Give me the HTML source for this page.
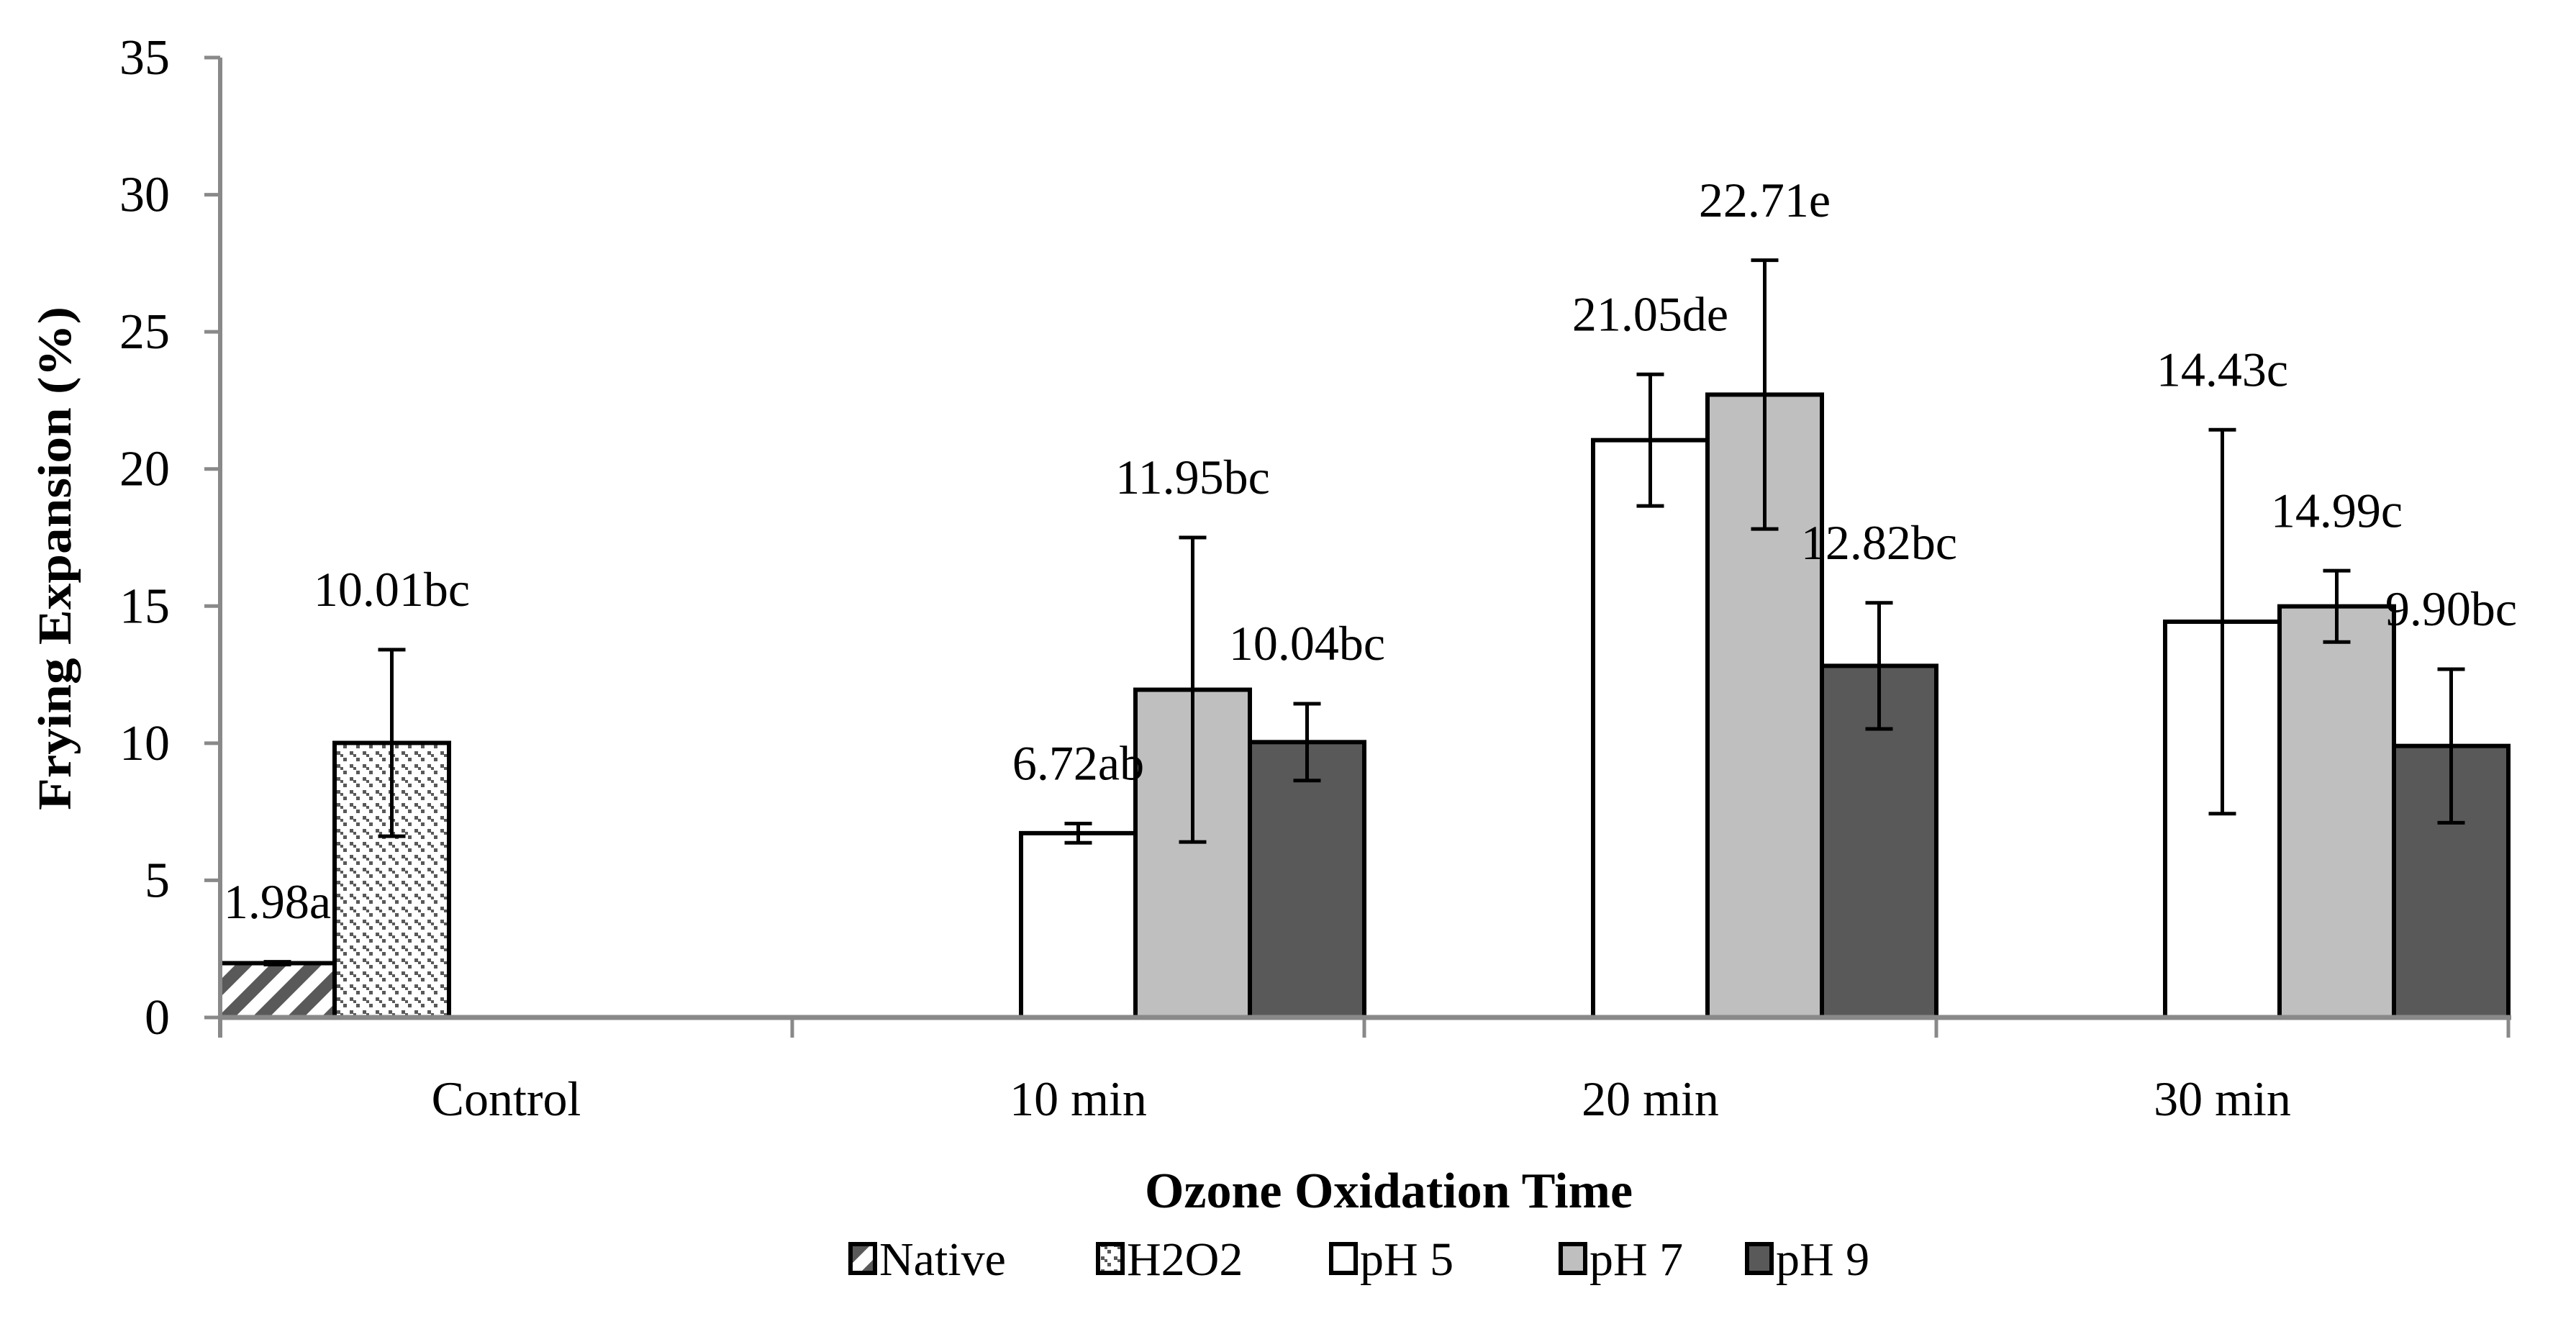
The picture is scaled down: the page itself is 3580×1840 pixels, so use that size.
<!DOCTYPE html>
<html><head><meta charset="utf-8"><style>
html,body{margin:0;padding:0;background:#fff;}
svg{display:block;font-family:"Liberation Serif",serif;}
</style></head><body>
<svg id="chart" width="3580" height="1840" viewBox="0 0 3580 1840" xmlns="http://www.w3.org/2000/svg">
<defs>
<pattern id="patNative" patternUnits="userSpaceOnUse" width="48" height="48">
<rect width="48" height="48" fill="#fff"/>
<path d="M-12,60 L60,-12 M-36,36 L36,-36 M12,84 L84,12" stroke="#595959" stroke-width="17"/>
</pattern>
<pattern id="patH2O2" patternUnits="userSpaceOnUse" width="18" height="18">
<rect width="18" height="18" fill="#fff"/>
<rect x="0" y="0" width="5" height="5" fill="#595959"/>
<rect x="9" y="9" width="5" height="5" fill="#595959"/>
<rect x="5" y="4" width="4" height="4" fill="#595959"/>
</pattern>
</defs>
<g id="plot"></g>
</svg>
<script>
const categories = ["Control", "10 min", "20 min", "30 min"];
const seriesNames = ["Native", "H2O2", "pH 5", "pH 7", "pH 9"];
const nativeVals = [1.98, null, null, null];
const h2o2Vals = [10.01, null, null, null];
const ph5Vals = [null, 6.72, 21.05, 14.43];
const ph7Vals = [null, 11.95, 22.71, 14.99];
const ph9Vals = [null, 10.04, 12.82, 9.90];
const nativeErr = [0.05, null, null, null];
const h2o2Err = [3.4, null, null, null];
const ph5Err = [null, 0.35, 2.4, 7.0];
const ph7Err = [null, 5.55, 4.9, 1.3];
const ph9Err = [null, 1.4, 2.3, 2.8];
const nativeLetters = ["a", null, null, null];
const h2o2Letters = ["bc", null, null, null];
const ph5Letters = [null, "ab", "de", "c"];
const ph7Letters = [null, "bc", "e", "c"];
const ph9Letters = [null, "bc", "bc", "bc"];
const yTicks = [0, 5, 10, 15, 20, 25, 30, 35];

const NS = "http://www.w3.org/2000/svg";
const g = document.getElementById("plot");
const X0 = 306, X1 = 3486, Y0 = 1414, YTOP = 80, YMAX = 35;
const catW = (X1 - X0) / categories.length;
const slotW = catW / seriesNames.length;
function yScale(v){ return Y0 - (v / YMAX) * (Y0 - YTOP); }
function xSlot(ci, si){ return X0 + ci * catW + si * slotW; }
function mk(tag, attrs, parent){
  const e = document.createElementNS(NS, tag);
  for (const k in attrs) e.setAttribute(k, attrs[k]);
  (parent || g).appendChild(e);
  return e;
}
const fills = ["url(#patNative)", "url(#patH2O2)", "#ffffff", "#bfbfbf", "#595959"];
const vals = [nativeVals, h2o2Vals, ph5Vals, ph7Vals, ph9Vals];
const errs = [nativeErr, h2o2Err, ph5Err, ph7Err, ph9Err];
const letters = [nativeLetters, h2o2Letters, ph5Letters, ph7Letters, ph9Letters];

yTicks.forEach(t => {
  const y = yScale(t);
  const tk = mk("line", {x1: X0 - 22, x2: X0, y1: y, y2: y, stroke: "#898989", "stroke-width": 5});
  
  
  const lb = mk("text", {x: X0 - 70, y: y + 23, "text-anchor": "end", "font-size": 70, fill: "#000"});
  lb.textContent = t;
  
  
});

categories.forEach((c, ci) => {
  vals.forEach((arr, si) => {
    const v = arr[ci];
    if (v === null || v === undefined) return;
    const x = xSlot(ci, si), y = yScale(v);
    const r = mk("rect", {x: x, y: y, width: slotW, height: Y0 - y, fill: fills[si], stroke: "#000", "stroke-width": 6});
    
    
  });
});

const ax = mk("line", {x1: X0, x2: X1 + 4, y1: Y0, y2: Y0, stroke: "#898989", "stroke-width": 7});


const ay = mk("line", {x1: X0, x2: X0, y1: YTOP, y2: Y0 + 28, stroke: "#898989", "stroke-width": 6});


for (let i = 0; i <= categories.length; i++) {
  const x = X0 + i * catW;
  const t = mk("line", {x1: x, x2: x, y1: Y0, y2: Y0 + 28, stroke: "#898989", "stroke-width": 5});
  
  
}

categories.forEach((c, ci) => {
  vals.forEach((arr, si) => {
    const v = arr[ci];
    if (v === null || v === undefined) return;
    const e = errs[si][ci];
    const cx = xSlot(ci, si) + slotW / 2;
    const yt = yScale(v + e), yb = yScale(v - e);
    const eg = mk("g", {stroke: "#000", "stroke-width": 5});
    
    
    mk("line", {x1: cx, x2: cx, y1: yt, y2: yb}, eg);
    mk("line", {x1: cx - 19, x2: cx + 19, y1: yt, y2: yt}, eg);
    mk("line", {x1: cx - 19, x2: cx + 19, y1: yb, y2: yb}, eg);
    const ly = yScale(v + e + 2.2) + 23;
    const lb = mk("text", {x: cx, y: ly, "text-anchor": "middle", "font-size": 68, fill: "#000"});
    lb.textContent = v.toFixed(2) + letters[si][ci];
    
    
  });
  const cl = mk("text", {x: X0 + ci * catW + catW / 2, y: 1550, "text-anchor": "middle", "font-size": 68, fill: "#000"});
  cl.textContent = c;
  
  
});

const xt = mk("text", {x: 1930, y: 1678, "text-anchor": "middle", "font-size": 70, "font-weight": "bold", fill: "#000"});
xt.textContent = "Ozone Oxidation Time";


const yt = mk("text", {x: 0, y: 0, "text-anchor": "middle", "font-size": 66, "font-weight": "bold", fill: "#000", transform: "translate(98,776) rotate(-90)", textLength: 700, lengthAdjust: "spacingAndGlyphs"});
yt.textContent = "Frying Expansion (%)";



const leg = mk("g", {});


const legendOffsets = [0, 344, 668, 987, 1246];
seriesNames.forEach((n, i) => {
  const ex = 1182 + legendOffsets[i];
  const sw = mk("rect", {x: ex, y: 1729, width: 34, height: 40, fill: fills[i], stroke: "#000", "stroke-width": 6}, leg);
  
  
  const t = mk("text", {x: ex + 40, y: 1772, "font-size": 66, fill: "#000"}, leg);
  t.textContent = n;
  
  
});
</script>
</body></html>
